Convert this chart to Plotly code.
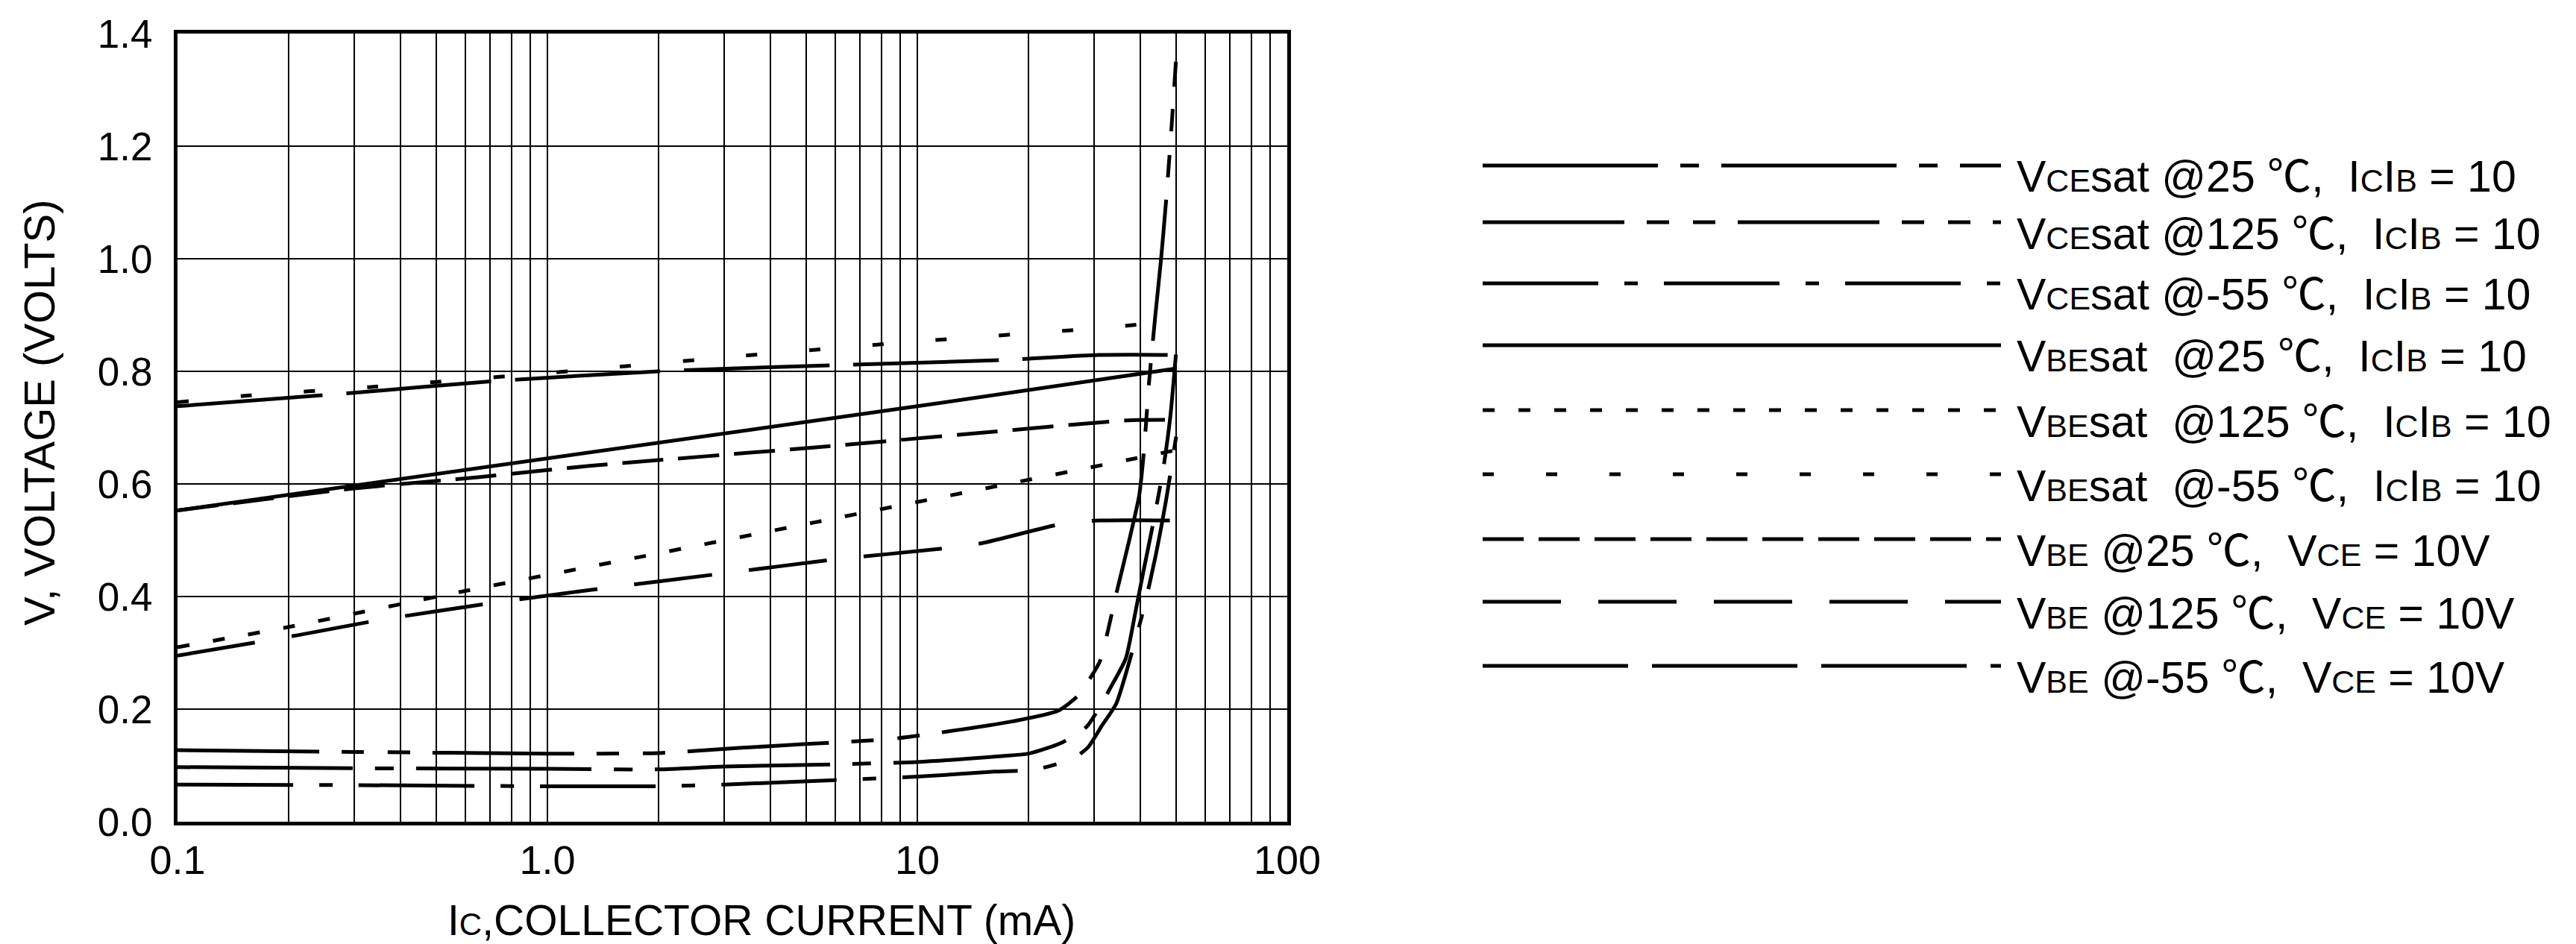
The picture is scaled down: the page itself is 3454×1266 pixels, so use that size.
import plotly.graph_objects as go

# ---------------- data ----------------
# collector current, mA  /  voltage, V
I_vce25 = [0.1, 0.3, 1, 2, 3, 6, 10, 16.4, 20, 24.5, 28.7, 31, 33.4, 36.6, 38.8, 41, 43.7, 46.3, 48.3, 50]
V_vce25 = [0.097, 0.095, 0.094, 0.093, 0.098, 0.102, 0.106, 0.116, 0.121, 0.14, 0.169, 0.202, 0.24, 0.29, 0.37, 0.45, 0.54, 0.63, 0.72, 0.83]

I_vce125 = [0.1, 0.3, 1, 2, 3.3, 5, 8.5, 12, 18, 24, 27, 29, 31.2, 34.5, 37.4, 39.8, 41, 42.3, 44, 45.6, 47, 48.5, 50]
V_vce125 = [0.127, 0.124, 0.121, 0.122, 0.131, 0.138, 0.147, 0.16, 0.178, 0.197, 0.222, 0.25, 0.286, 0.405, 0.50, 0.58, 0.66, 0.78, 0.90, 1.0, 1.1, 1.22, 1.35]

I_vcem55 = [0.1, 0.3, 1, 2, 3, 6, 10, 16.2, 21, 26.5, 29, 31.5, 34.5, 38, 41, 44, 47, 50.5]
V_vcem55 = [0.066, 0.065, 0.063, 0.063, 0.066, 0.074, 0.080, 0.089, 0.093, 0.113, 0.133, 0.17, 0.21, 0.30, 0.38, 0.47, 0.57, 0.70]

I_vbes25 = [0.1, 1, 10, 50]
V_vbes25 = [0.553, 0.645, 0.738, 0.805]

I_vbes125 = [0.1, 0.2, 0.6, 1.77, 5.3, 15.8, 37.3, 50]
V_vbes125 = [0.31, 0.346, 0.41, 0.47, 0.532, 0.594, 0.643, 0.66]

I_vbesm55 = [0.1, 0.155, 0.33, 1.04, 3.3, 10.4, 32.9, 50]
V_vbesm55 = [0.745, 0.757, 0.772, 0.798, 0.827, 0.854, 0.878, 0.89]

I_vbe25 = [0.1, 0.3, 0.65, 1.3, 5.3, 15.6, 37, 50]
V_vbe25 = [0.553, 0.592, 0.612, 0.632, 0.665, 0.692, 0.713, 0.714]

I_vbe125 = [0.1, 0.21, 0.35, 0.7, 1.43, 2.9, 6, 12, 15, 25, 31, 50]
V_vbe125 = [0.295, 0.331, 0.358, 0.388, 0.415, 0.44, 0.466, 0.486, 0.495, 0.53, 0.535, 0.535]

I_vbem55 = [0.1, 0.3, 0.7, 2, 6, 17, 31, 50]
V_vbem55 = [0.738, 0.762, 0.782, 0.80, 0.811, 0.82, 0.829, 0.829]

x_tick_vals = [0.1, 1, 10, 100]
x_tick_text = ["0.1", "1.0", "10", "100"]
y_tick_vals = [0.0, 0.2, 0.4, 0.6, 0.8, 1.0, 1.2, 1.4]

S = 'font-size:43px'
DEG = '<span style="font-family:Noto Sans CJK SC">℃</span>'
legend_labels = [
    f'V<span style="{S}">CE</span>sat @25 {DEG},  I<span style="{S}">C</span>I<span style="{S}">B</span> = 10',
    f'V<span style="{S}">CE</span>sat @125 {DEG},  I<span style="{S}">C</span>I<span style="{S}">B</span> = 10',
    f'V<span style="{S}">CE</span>sat @-55 {DEG},  I<span style="{S}">C</span>I<span style="{S}">B</span> = 10',
    f'V<span style="{S}">BE</span>sat  @25 {DEG},  I<span style="{S}">C</span>I<span style="{S}">B</span> = 10',
    f'V<span style="{S}">BE</span>sat  @125 {DEG},  I<span style="{S}">C</span>I<span style="{S}">B</span> = 10',
    f'V<span style="{S}">BE</span>sat  @-55 {DEG},  I<span style="{S}">C</span>I<span style="{S}">B</span> = 10',
    f'V<span style="{S}">BE</span> @25 {DEG},  V<span style="{S}">CE</span> = 10V',
    f'V<span style="{S}">BE</span> @125 {DEG},  V<span style="{S}">CE</span> = 10V',
    f'V<span style="{S}">BE</span> @-55 {DEG},  V<span style="{S}">CE</span> = 10V',
]

series = [
    (I_vce25, V_vce25, "235px,30px,25px,30px", "spline"),
    (I_vce125, V_vce125, "190px,30px,30px,32px,30px,30px", "spline"),
    (I_vcem55, V_vcem55, "155px,35px,18px,35px", "spline"),
    (I_vbes25, V_vbes25, "solid", "linear"),
    (I_vbes125, V_vbes125, "16px,32px", "spline"),
    (I_vbesm55, V_vbesm55, "15px,70px", "spline"),
    (I_vbe25, V_vbe25, "55px,20px", "spline"),
    (I_vbe125, V_vbe125, "105px,50px", "spline"),
    (I_vbem55, V_vbem55, "195px,32px", "spline"),
]

# ---------------- layout geometry ----------------
W, H = 3454, 1266
PX0, PX1 = 230, 1718      # plot area left/right (px)
PY0, PY1 = 37, 1094       # plot area top/bottom (px)
LEG_X0, LEG_X1 = 1980, 2675
LEG_TEXT_X = 2694
LEG_ROWS = [214, 290, 372, 455, 542, 628, 715, 799, 885]

FONT = "Liberation Sans, Arial, Helvetica, Noto Sans CJK SC, sans-serif"

fig = go.Figure()

for xs, ys, dash, shape in series:
    fig.add_trace(go.Scatter(
        x=xs, y=ys, mode="lines", showlegend=False, hoverinfo="skip",
        line=dict(color="black", width=5, dash=dash, shape=shape, smoothing=0.6),
        xaxis="x", yaxis="y"))

# legend samples (hidden axes in pixel units)
for i, (_, _, dash, _) in enumerate(series):
    ry = LEG_ROWS[i]
    fig.add_trace(go.Scatter(
        x=[0, 1], y=[ry, ry], mode="lines", showlegend=False, hoverinfo="skip",
        line=dict(color="black", width=5, dash=dash),
        xaxis="x2", yaxis="y2"))
    fig.add_annotation(
        x=LEG_TEXT_X / W, y=1 - (ry + 10) / H, xref="paper", yref="paper",
        xanchor="left", yanchor="middle", showarrow=False,
        text=legend_labels[i], font=dict(family=FONT, size=59, color="black"))

minor_vals = [m * 10 ** e for e in (-1, 0, 1) for m in range(2, 10)]

fig.update_layout(
    width=W, height=H, margin=dict(l=0, r=0, t=0, b=0, pad=0, autoexpand=False),
    autosize=False,
    paper_bgcolor="white", plot_bgcolor="white",
    font=dict(family=FONT, color="black"),
    xaxis=dict(
        type="log", range=[-1, 2], domain=[PX0 / W, PX1 / W], automargin=False,
        tickvals=x_tick_vals, ticktext=x_tick_text,
        tickfont=dict(size=54), ticklabelstandoff=0,
        showgrid=True, gridcolor="black", gridwidth=2,
        minor=dict(tickvals=minor_vals, showgrid=True, gridcolor="black", gridwidth=2),
        showline=True, linecolor="black", linewidth=5, mirror=True,
        ticks="", zeroline=False),
    yaxis=dict(
        range=[0, 1.4], domain=[(H - PY1) / H, (H - PY0) / H], automargin=False,
        tickvals=y_tick_vals, tickformat=".1f",
        tickfont=dict(size=53), ticklabelstandoff=18,
        showgrid=True, gridcolor="black", gridwidth=2,
        showline=True, linecolor="black", linewidth=5, mirror=True,
        ticks="", zeroline=False),
    xaxis2=dict(domain=[LEG_X0 / W, LEG_X1 / W], range=[0, 1], visible=False,
                anchor="y2", automargin=False),
    yaxis2=dict(domain=[0, 1], range=[H, 0], visible=False, anchor="x2", automargin=False),
)

# axis titles
fig.add_annotation(
    x=1013 / W, y=1 - 1226 / H, xref="paper", yref="paper", showarrow=False,
    xanchor="center", yanchor="middle",
    text='I<span style="font-size:42px">C</span>,COLLECTOR CURRENT (mA)',
    font=dict(family=FONT, size=57, color="black"))
fig.add_annotation(
    x=44 / W, y=1 - 545 / H, xref="paper", yref="paper", showarrow=False,
    xanchor="center", yanchor="middle", textangle=-90,
    text="V, VOLTAGE (VOLTS)",
    font=dict(family=FONT, size=58, color="black"))

fig.write_html("out.html")
